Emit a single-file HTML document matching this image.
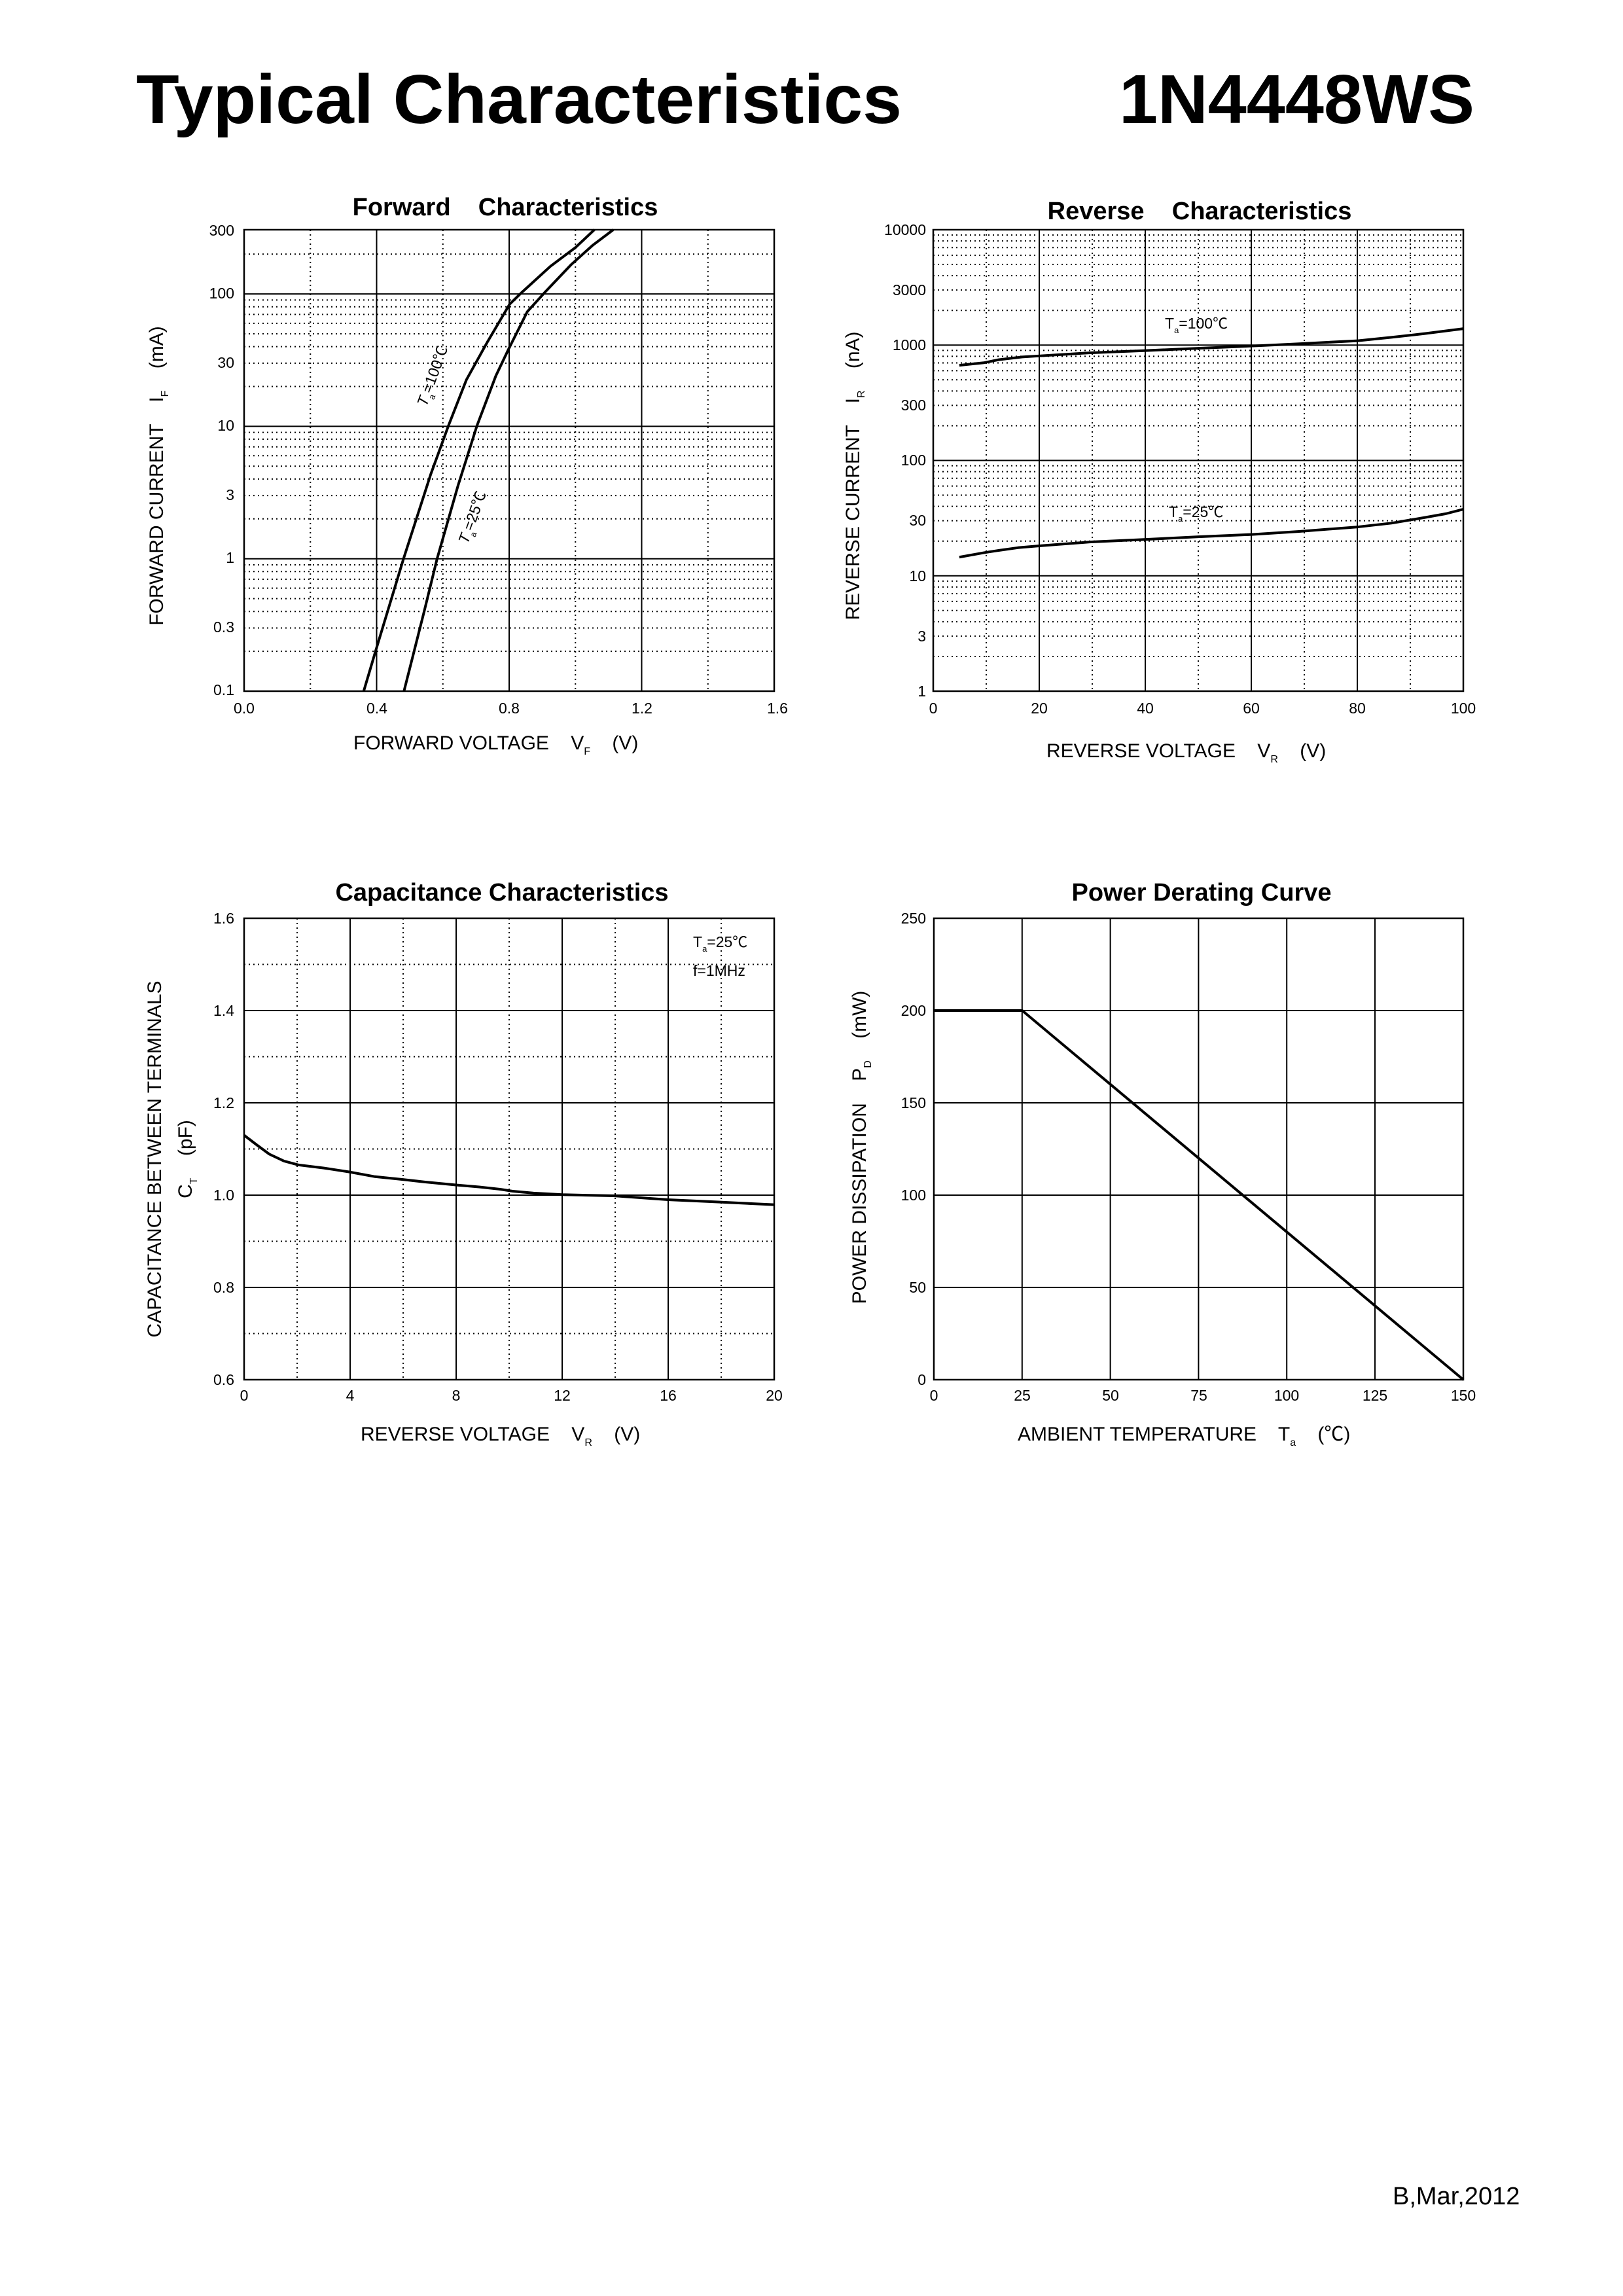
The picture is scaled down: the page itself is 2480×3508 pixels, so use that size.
<!DOCTYPE html>
<html><head><meta charset="utf-8"><style>
html,body{margin:0;padding:0;background:#fff}
svg{display:block}
text{font-family:"Liberation Sans","Noto Sans CJK SC",sans-serif;fill:#000}
</style></head><body>
<svg id="s" width="2480" height="3508" viewBox="0 0 2480 3508" xmlns="http://www.w3.org/2000/svg">
<rect width="2480" height="3508" fill="#fff"/>
<g id="grid" stroke="#000" fill="none"></g>

<!-- Titles -->
<text x="208" y="188" font-size="106" font-weight="bold" textLength="1170" lengthAdjust="spacingAndGlyphs">Typical Characteristics</text>
<text x="1710" y="188" font-size="106" font-weight="bold" textLength="543" lengthAdjust="spacingAndGlyphs">1N4448WS</text>

<g font-weight="bold" font-size="38" text-anchor="middle">
<text x="772" y="329" xml:space="preserve">Forward    Characteristics</text>
<text x="1833" y="335" xml:space="preserve">Reverse    Characteristics</text>
<text x="767" y="1376">Capacitance Characteristics</text>
<text x="1836" y="1376">Power Derating Curve</text>
</g>

<!-- Forward tick labels -->
<g font-size="23" text-anchor="end">
<text x="358" y="360">300</text><text x="358" y="456">100</text><text x="358" y="562">30</text><text x="358" y="658">10</text>
<text x="358" y="764">3</text><text x="358" y="860">1</text><text x="358" y="966">0.3</text><text x="358" y="1062">0.1</text>
<text x="1415" y="359">10000</text><text x="1415" y="451">3000</text><text x="1415" y="535">1000</text><text x="1415" y="627">300</text>
<text x="1415" y="711">100</text><text x="1415" y="803">30</text><text x="1415" y="888">10</text><text x="1415" y="980">3</text><text x="1415" y="1064">1</text>
<text x="358" y="1411">1.6</text><text x="358" y="1552">1.4</text><text x="358" y="1693">1.2</text><text x="358" y="1834">1.0</text><text x="358" y="1975">0.8</text><text x="358" y="2116">0.6</text>
<text x="1415" y="1411">250</text><text x="1415" y="1552">200</text><text x="1415" y="1693">150</text><text x="1415" y="1834">100</text><text x="1415" y="1975">50</text><text x="1415" y="2116">0</text>
</g>
<g font-size="23" text-anchor="middle">
<text x="373" y="1090">0.0</text><text x="576" y="1090">0.4</text><text x="778" y="1090">0.8</text><text x="981" y="1090">1.2</text><text x="1188" y="1090">1.6</text>
<text x="1426" y="1090">0</text><text x="1588" y="1090">20</text><text x="1750" y="1090">40</text><text x="1912" y="1090">60</text><text x="2074" y="1090">80</text><text x="2236" y="1090">100</text>
<text x="373" y="2140">0</text><text x="535" y="2140">4</text><text x="697" y="2140">8</text><text x="859" y="2140">12</text><text x="1021" y="2140">16</text><text x="1183" y="2140">20</text>
<text x="1427" y="2140">0</text><text x="1562" y="2140">25</text><text x="1697" y="2140">50</text><text x="1832" y="2140">75</text><text x="1966" y="2140">100</text><text x="2101" y="2140">125</text><text x="2236" y="2140">150</text>
</g>

<!-- axis labels -->
<g font-size="30">
<text x="540" y="1145" xml:space="preserve">FORWARD VOLTAGE    V<tspan font-size="16" dy="8">F</tspan><tspan dy="-8">    (V)</tspan></text>
<text x="1599" y="1157" xml:space="preserve">REVERSE VOLTAGE    V<tspan font-size="16" dy="8">R</tspan><tspan dy="-8">    (V)</tspan></text>
<text x="551" y="2201" xml:space="preserve">REVERSE VOLTAGE    V<tspan font-size="16" dy="8">R</tspan><tspan dy="-8">    (V)</tspan></text>
<text x="1555" y="2201" xml:space="preserve">AMBIENT TEMPERATURE    T<tspan font-size="16" dy="8">a</tspan><tspan dy="-8">    (℃)</tspan></text>
<text transform="translate(249,727) rotate(-90)" text-anchor="middle" xml:space="preserve">FORWARD CURRENT    I<tspan font-size="16" dy="8">F</tspan><tspan dy="-8">    (mA)</tspan></text>
<text transform="translate(1313,727) rotate(-90)" text-anchor="middle" xml:space="preserve">REVERSE CURRENT    I<tspan font-size="16" dy="8">R</tspan><tspan dy="-8">    (nA)</tspan></text>
<text transform="translate(246,1771) rotate(-90)" text-anchor="middle">CAPACITANCE BETWEEN TERMINALS</text>
<text transform="translate(293,1771) rotate(-90)" text-anchor="middle" xml:space="preserve">C<tspan font-size="16" dy="8">T</tspan><tspan dy="-8">    (pF)</tspan></text>
<text transform="translate(1323,1753) rotate(-90)" text-anchor="middle" xml:space="preserve">POWER DISSIPATION    P<tspan font-size="16" dy="8">D</tspan><tspan dy="-8">    (mW)</tspan></text>
</g>

<!-- annotations -->
<g font-size="23">
<text x="1780" y="502">T<tspan font-size="13" dy="7">a</tspan><tspan dy="-7">=100℃</tspan></text>
<text x="1786" y="790">T<tspan font-size="13" dy="7">a</tspan><tspan dy="-7">=25℃</tspan></text>
<text x="1059" y="1447">T<tspan font-size="13" dy="7">a</tspan><tspan dy="-7">=25℃</tspan></text>
<text x="1059" y="1491">f=1MHz</text>
<text transform="translate(668,577) rotate(-70)" text-anchor="middle"><tspan font-style="italic">T</tspan><tspan font-size="13" dy="7">a</tspan><tspan dy="-7">=100℃</tspan></text>
<text transform="translate(729,793) rotate(-70)" text-anchor="middle"><tspan font-style="italic">T</tspan><tspan font-size="13" dy="7">a</tspan><tspan dy="-7">=25℃</tspan></text>
</g>

<!-- curves -->
<g fill="none" stroke="#000" stroke-width="4" stroke-linejoin="round">
<g transform="translate(200,280) scale(0.641,0.577)">
<path vector-effect="non-scaling-stroke" d="M555,1345 L583,1240 L650,994 L715,770 L757,642 L800,520 L850,420 L903,320 L930,291 L1000,220 L1060,170 L1105,123"/>
<path vector-effect="non-scaling-stroke" d="M651,1345 L700,1130 L730,994 L780,800 L825,642 L870,510 L900,440 L945,340 L985,291 L1050,215 L1100,165 L1150,123"/>
</g>
<g transform="translate(1280,280) scale(0.641,0.577)">
<path vector-effect="non-scaling-stroke" d="M290,482 L350,475 L385,467 L440,460 L483,457 L600,449 L735,443 L860,437 L987,431 L1100,425 L1240,417 L1320,408 L1400,398 L1492,385"/>
<path vector-effect="non-scaling-stroke" d="M290,990 L350,978 L385,972 L430,965 L483,960 L600,950 L735,943 L860,936 L987,930 L1100,922 L1240,910 L1320,900 L1400,885 L1450,875 L1492,863"/>
</g>
<g transform="translate(200,1320) scale(0.641,0.5896)">
<path vector-effect="non-scaling-stroke" d="M270,703 L300,728 L330,752 L365,770 L400,780 L460,788 L520,798 L580,810 L650,818 L700,824 L775,832 L830,837 L880,843 L910,848 L960,853 L1028,857 L1150,860 L1280,870 L1400,876 L1533,883"/>
</g>
<path d="M1427,1544 L1562,1544 L2236,2108"/>
</g>

<text x="2128" y="3368" font-size="38">B,Mar,2012</text>
</svg>
<script>
(function(){
var g=document.getElementById('grid'),NS='http://www.w3.org/2000/svg';
function L(x1,y1,x2,y2,dot,w){var l=document.createElementNS(NS,'line');l.setAttribute('x1',x1);l.setAttribute('y1',y1);l.setAttribute('x2',x2);l.setAttribute('y2',y2);l.setAttribute('stroke-width',w||(dot?2:2));if(dot)l.setAttribute('stroke-dasharray','2 5');g.appendChild(l);}
function R(x,y,w,h){var r=document.createElementNS(NS,'rect');r.setAttribute('x',x);r.setAttribute('y',y);r.setAttribute('width',w);r.setAttribute('height',h);r.setAttribute('stroke-width',2.5);g.appendChild(r);}
var i,d,k,y;
// Forward
var fx0=373,fx1=1183,fy0=351,fy1=1056;
function fy(I){return fy1-(Math.log10(I)+1)*202.3;}
for(i=1;i<8;i++){L(fx0+i*101.25,fy0,fx0+i*101.25,fy1,i%2==1);}
for(d=-1;d<=2;d++){for(k=1;k<10;k++){var v=k*Math.pow(10,d);if(v>=300)break;y=fy(v);if(k==1){if(d>-1)L(fx0,y,fx1,y,false);}else L(fx0,y,fx1,y,true);}}
R(fx0,fy0,fx1-fx0,fy1-fy0);
// Reverse
var rx0=1426,rx1=2236,ry0=351,ry1=1056;
for(i=1;i<10;i++){L(rx0+i*81,ry0,rx0+i*81,ry1,i%2==1);}
for(d=0;d<4;d++){for(k=1;k<10;k++){y=ry1-Math.log10(k*Math.pow(10,d))*176.25;if(k==1){if(d>0)L(rx0,y,rx1,y,false);}else L(rx0,y,rx1,y,true);}}
R(rx0,ry0,rx1-rx0,ry1-ry0);
// Cap
var cx0=373,cx1=1183,cy0=1403,cy1=2108;
for(i=1;i<10;i++){L(cx0+i*81,cy0,cx0+i*81,cy1,i%2==1);}
for(i=1;i<10;i++){y=cy0+i*70.5;L(cx0,y,cx1,y,i%2==1);}
R(cx0,cy0,cx1-cx0,cy1-cy0);
// Power
var px0=1427,px1=2236;
for(i=1;i<6;i++){L(px0+i*134.8,cy0,px0+i*134.8,cy1,false);}
for(i=1;i<5;i++){y=cy0+i*141;L(px0,y,px1,y,false);}
R(px0,cy0,px1-px0,cy1-cy0);
})();
</script>
</body></html>
